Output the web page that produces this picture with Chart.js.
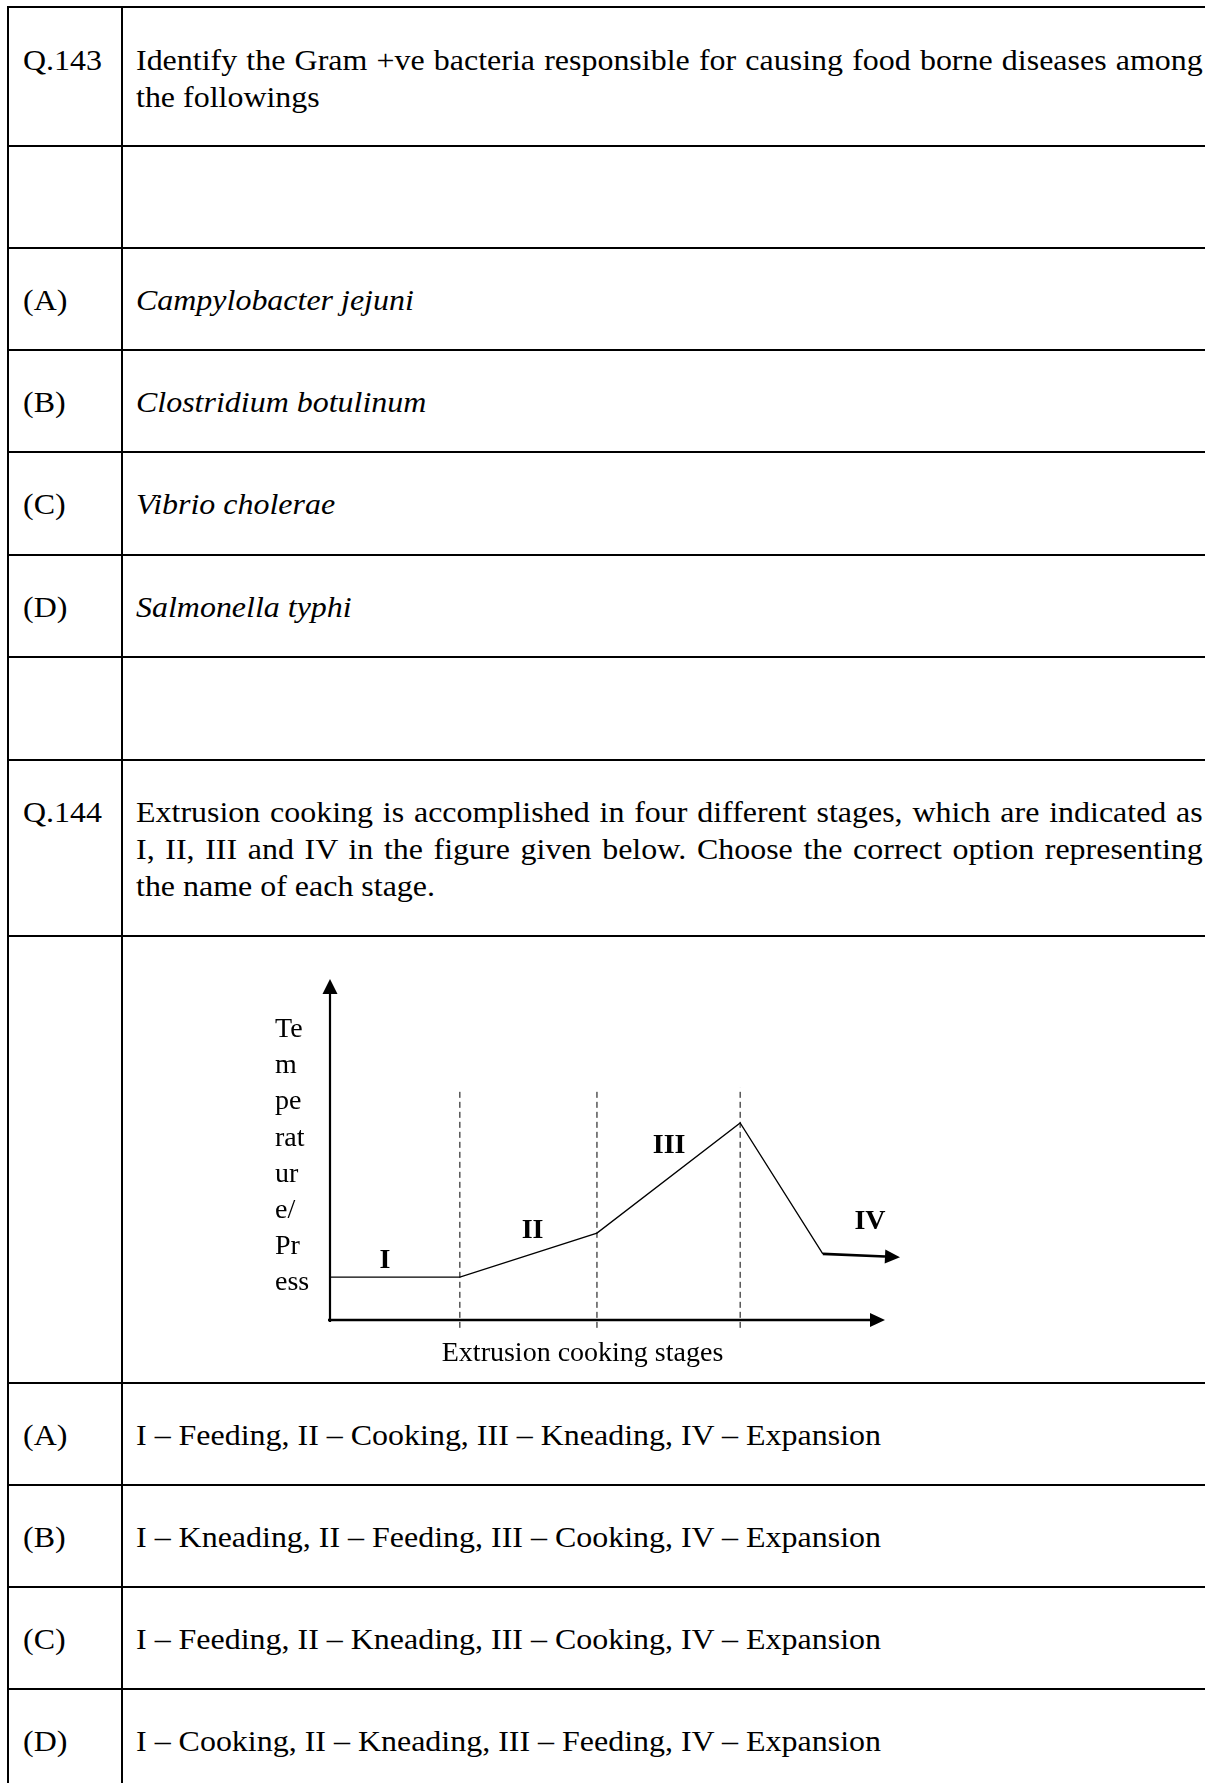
<!DOCTYPE html>
<html>
<head>
<meta charset="utf-8">
<script src="https://cdn.jsdelivr.net/npm/chart.js@4.4.1/dist/chart.umd.min.js"></script>
<style>
  html, body { margin: 0; padding: 0; background: #fff; overflow: hidden; }
  #page { position: relative; width: 1205px; height: 1783px; overflow: hidden; }
  .hl { position: absolute; left: 7px; width: 1198px; height: 2px; background: #000; }
  .vl { position: absolute; top: 6px; width: 2px; height: 1777px; background: #000; }
  .t {
    position: absolute; color: #000; white-space: nowrap;
    font: 29px/37px "Liberation Serif", "Times New Roman", serif;
    transform: scaleX(1.102); transform-origin: 0 0;
  }
  .j { white-space: normal; width: 968px; text-align: justify; text-align-last: justify; }
  .i { font-style: italic; }
  #fig { position: absolute; left: 250px; top: 950px; }
</style>
</head>
<body>
<div id="page">
  <div class="vl" style="left:7px"></div>
  <div class="vl" style="left:121px"></div>

  <div class="hl" style="top:6px"></div>
  <div class="hl" style="top:145px"></div>
  <div class="hl" style="top:247px"></div>
  <div class="hl" style="top:349px"></div>
  <div class="hl" style="top:451px"></div>
  <div class="hl" style="top:554px"></div>
  <div class="hl" style="top:656px"></div>
  <div class="hl" style="top:759px"></div>
  <div class="hl" style="top:935px"></div>
  <div class="hl" style="top:1382px"></div>
  <div class="hl" style="top:1484px"></div>
  <div class="hl" style="top:1586px"></div>
  <div class="hl" style="top:1688px"></div>

  <div class="t" style="left:23px;top:42px">Q.143</div>
  <div class="t j" style="left:136px;top:42px">Identify the Gram +ve bacteria responsible for causing food borne diseases among</div>
  <div class="t" style="left:136px;top:79px">the followings</div>

  <div class="t" style="left:23px;top:282px">(A)</div>
  <div class="t i" style="left:136px;top:282px">Campylobacter jejuni</div>
  <div class="t" style="left:23px;top:384px">(B)</div>
  <div class="t i" style="left:136px;top:384px">Clostridium botulinum</div>
  <div class="t" style="left:23px;top:486px">(C)</div>
  <div class="t i" style="left:136px;top:486px">Vibrio cholerae</div>
  <div class="t" style="left:23px;top:589px">(D)</div>
  <div class="t i" style="left:136px;top:589px">Salmonella typhi</div>

  <div class="t" style="left:23px;top:794px">Q.144</div>
  <div class="t j" style="left:136px;top:794px">Extrusion cooking is accomplished in four different stages, which are indicated as</div>
  <div class="t j" style="left:136px;top:831px">I, II, III and IV in the figure given below. Choose the correct option representing</div>
  <div class="t" style="left:136px;top:868px">the name of each stage.</div>

  <canvas id="fig" width="700" height="430"></canvas>

  <div class="t" style="left:23px;top:1417px">(A)</div>
  <div class="t" style="left:136px;top:1417px">I – Feeding, II – Cooking, III – Kneading, IV – Expansion</div>
  <div class="t" style="left:23px;top:1519px">(B)</div>
  <div class="t" style="left:136px;top:1519px">I – Kneading, II – Feeding, III – Cooking, IV – Expansion</div>
  <div class="t" style="left:23px;top:1621px">(C)</div>
  <div class="t" style="left:136px;top:1621px">I – Feeding, II – Kneading, III – Cooking, IV – Expansion</div>
  <div class="t" style="left:23px;top:1723px">(D)</div>
  <div class="t" style="left:136px;top:1723px">I – Cooking, II – Kneading, III – Feeding, IV – Expansion</div>
</div>

<script>
// profile of temperature/pressure along the extruder (arbitrary units, 0-100)
const stageX = [0, 23.4, 48.1, 73.9, 88.8];
const stageY = [12.6, 12.6, 25.5, 57.8, 19.4];
// stage IV tail, ends in an arrow
const expansionX = [88.8, 100];
const expansionY = [19.4, 18.6];
// dashed stage boundaries
const boundaryX = [23.4, 48.1, 73.9];
const boundaryTop = [67.2, 67.8, 68.1];
const boundaryBottom = -2.3;
// stage names and where they sit
const stageLabels = ['I', 'II', 'III', 'IV'];
const labelX = [9.9, 36.5, 61.1, 97.3];
const labelY = [15.2, 24.0, 49.0, 26.7];
// axis titles
const yTitleLines = ['Te', 'm', 'pe', 'rat', 'ur', 'e/', 'Pr', 'ess'];
const xTitle = 'Extrusion cooking stages';

const SERIF = '"Liberation Serif", "Times New Roman", serif';

function arrowHead(ctx, fromX, fromY, toX, toY, len, half) {
    const a = Math.atan2(toY - fromY, toX - fromX);
    ctx.beginPath();
    ctx.moveTo(toX + Math.cos(a) * len, toY + Math.sin(a) * len);
    ctx.lineTo(toX - Math.sin(a) * half, toY + Math.cos(a) * half);
    ctx.lineTo(toX + Math.sin(a) * half, toY - Math.cos(a) * half);
    ctx.closePath();
    ctx.fill();
}

const sketchPlugin = {
    id: 'sketch',
    afterDatasetsDraw(chart) {
        const ctx = chart.ctx;
        const xs = chart.scales.x, ys = chart.scales.y;
        const x0 = xs.getPixelForValue(0), y0 = ys.getPixelForValue(0);
        ctx.save();
        ctx.strokeStyle = '#000';
        ctx.fillStyle = '#000';

        // y axis with arrow
        const yTop = ys.getPixelForValue(100);
        ctx.lineWidth = 2.2;
        ctx.beginPath();
        ctx.moveTo(x0, y0 + 2);
        ctx.lineTo(x0, yTop + 15);
        ctx.stroke();
        arrowHead(ctx, x0, y0, x0, yTop + 15, 15, 7.5);

        // x axis with arrow
        const xEnd = xs.getPixelForValue(100);
        ctx.lineWidth = 2.6;
        ctx.beginPath();
        ctx.moveTo(x0 - 2, y0);
        ctx.lineTo(xEnd - 15, y0);
        ctx.stroke();
        arrowHead(ctx, x0, y0, xEnd - 15, y0, 15, 7);

        // arrow on stage IV tail
        const n = expansionX.length;
        arrowHead(ctx,
            xs.getPixelForValue(expansionX[n - 2]), ys.getPixelForValue(expansionY[n - 2]),
            xs.getPixelForValue(expansionX[n - 1]), ys.getPixelForValue(expansionY[n - 1]),
            15, 7);

        // stage labels
        ctx.font = 'bold 28px ' + SERIF;
        ctx.textAlign = 'center';
        ctx.textBaseline = 'alphabetic';
        stageLabels.forEach((s, i) => {
            ctx.fillText(s, xs.getPixelForValue(labelX[i]), ys.getPixelForValue(labelY[i]));
        });

        // axis titles
        ctx.font = '28px ' + SERIF;
        ctx.textAlign = 'left';
        const firstBase = ys.getPixelForValue(83);
        yTitleLines.forEach((s, i) => {
            ctx.fillText(s, x0 - 55, firstBase + i * 36.2);
        });
        ctx.textAlign = 'center';
        ctx.fillText(xTitle, xs.getPixelForValue(45.5), y0 + 41);
        ctx.restore();
    }
};

const datasets = [
    {
        data: stageX.map((x, i) => ({ x: x, y: stageY[i] })),
        borderColor: '#000', borderWidth: 1.3, pointRadius: 0, tension: 0, clip: false
    },
    {
        data: expansionX.map((x, i) => ({ x: x, y: expansionY[i] })),
        borderColor: '#000', borderWidth: 2.6, pointRadius: 0, tension: 0, clip: false
    }
];
boundaryX.forEach((bx, i) => {
    datasets.push({
        data: [{ x: bx, y: boundaryBottom }, { x: bx, y: boundaryTop[i] }],
        borderColor: '#000', borderWidth: 1, borderDash: [6, 4],
        pointRadius: 0, tension: 0, clip: false
    });
});

new Chart(document.getElementById('fig'), {
    type: 'line',
    data: { datasets: datasets },
    options: {
        responsive: false,
        animation: false,
        events: [],
        layout: { padding: { left: 80, right: 65, top: 29, bottom: 60 } },
        plugins: { legend: { display: false }, tooltip: { enabled: false } },
        scales: {
            x: { type: 'linear', min: 0, max: 100, display: false },
            y: { type: 'linear', min: 0, max: 100, display: false }
        }
    },
    plugins: [sketchPlugin]
});
</script>
</body>
</html>
